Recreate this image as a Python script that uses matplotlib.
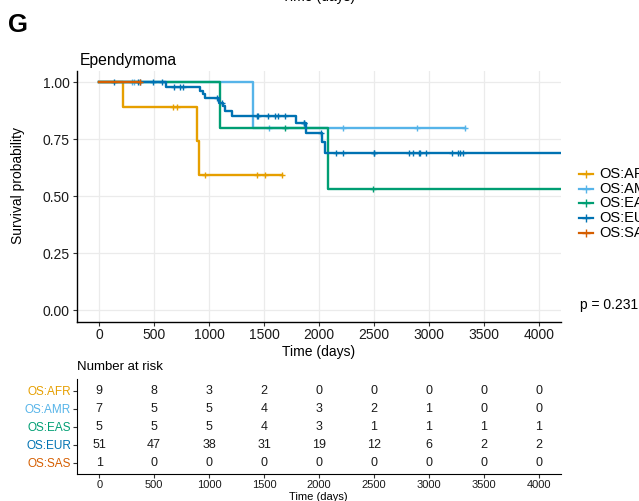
import numpy as np
import matplotlib
matplotlib.use('Agg')
import matplotlib.pyplot as plt
from matplotlib.lines import Line2D

plt.rcParams['font.family'] = ['Liberation Sans', 'DejaVu Sans']

groups = ['OS:AFR', 'OS:AMR', 'OS:EAS', 'OS:EUR', 'OS:SAS']
colors = ['#E69F00', '#56B4E9', '#009E73', '#0072B2', '#D55E00']

# KM steps: time of each drop and survival after it
afr_time = [0, 218, 889, 907]
afr_surv = [1.0, 0.889, 0.741, 0.593]
afr_last = 1665
afr_cens = [670, 707, 961, 1440, 1505, 1660]

amr_time = [0, 1403]
amr_surv = [1.0, 0.80]
amr_last = 3329
amr_cens = [300, 318, 1542, 2222, 2893, 3329]

eas_time = [0, 1102, 2086]
eas_surv = [1.0, 0.80, 0.533]
eas_last = 4400
eas_cens = [1687, 2494]

eur_time = [0, 609, 918, 943, 964, 1094, 1124, 1145, 1206, 1795, 1882, 2030, 2055]
eur_surv = [1.0, 0.978, 0.962, 0.946, 0.932, 0.910, 0.895, 0.871, 0.851, 0.822, 0.778, 0.735, 0.690]
eur_last = 4400
eur_cens = [130, 355, 372, 485, 570, 682, 736, 766, 1075, 1115, 1434, 1448, 1539, 1600,
            1630, 1691, 1860, 1868, 2015, 2152, 2215, 2500, 2505, 2818, 2858, 2912, 2918,
            2973, 3215, 3267, 3280, 3312]

sas_time = [0]
sas_surv = [1.0]
sas_last = 372
sas_cens = [372]

curves = [(afr_time, afr_surv, afr_last, afr_cens),
          (amr_time, amr_surv, amr_last, amr_cens),
          (eas_time, eas_surv, eas_last, eas_cens),
          (eur_time, eur_surv, eur_last, eur_cens),
          (sas_time, sas_surv, sas_last, sas_cens)]

risk_times = [0, 500, 1000, 1500, 2000, 2500, 3000, 3500, 4000]
risk_afr = [9, 8, 3, 2, 0, 0, 0, 0, 0]
risk_amr = [7, 5, 5, 4, 3, 2, 1, 0, 0]
risk_eas = [5, 5, 5, 4, 3, 1, 1, 1, 1]
risk_eur = [51, 47, 38, 31, 19, 12, 6, 2, 2]
risk_sas = [1, 0, 0, 0, 0, 0, 0, 0, 0]
risk = [risk_afr, risk_amr, risk_eas, risk_eur, risk_sas]

W, H = 639, 501
fig = plt.figure(figsize=(W / 100, H / 100), dpi=100)

def px(x0, y_top, x1, y_bot):
    return [x0 / W, 1 - y_bot / H, (x1 - x0) / W, (y_bot - y_top) / H]

ax = fig.add_axes(px(76.7, 70.6, 560.7, 321.5))
ax.set_xlim(-205, 4200)
ax.set_ylim(-0.05, 1.05)
ax.set_xticks(risk_times)
ax.set_yticks([0, 0.25, 0.5, 0.75, 1.0])
ax.set_yticklabels(['0.00', '0.25', '0.50', '0.75', '1.00'])
ax.grid(True, color='#EBEBEB', lw=0.9)
ax.set_axisbelow(True)
for s in ['top', 'right']:
    ax.spines[s].set_visible(False)
for s in ['left', 'bottom']:
    ax.spines[s].set_linewidth(1.0)
ax.tick_params(length=3, width=0.8, color='#333333', labelsize=10, labelcolor='#1a1a1a', pad=2)

for (t, s, last, cens), c in zip(curves, colors):
    ax.step(t + [last], s + [s[-1]], where='post', color=c, lw=1.7, clip_on=True)
    idx = np.searchsorted(t, cens, side='right') - 1
    ax.plot(cens, np.array(s)[idx], ls='none', marker='+', ms=5, mew=1.0, color=c)

ax.set_xlabel('Time (days)', fontsize=10)
ax.xaxis.set_label_coords(0.5, -0.095)
fig.text(18 / W, 1 - 185 / H, 'Survival probability', rotation=90, ha='center', va='center', fontsize=10)
fig.text(80 / W, 1 - 60 / H, 'Ependymoma', ha='left', va='center', fontsize=11.3)
fig.text(8 / W, 1 - 25 / H, 'G', ha='left', va='center', fontsize=18.5, fontweight='bold')
# x label of the panel above, partly cut by the top edge
fig.text(319 / W, 1 + 2.5 / H, 'Time (days)', ha='center', va='center', fontsize=10)

# legend on the right, partly cut by the figure edge
for i, (g, c) in enumerate(zip(groups, colors)):
    y = 1 - (174 + 14.7 * i) / H
    fig.add_artist(Line2D([579 / W, 593 / W], [y, y], color=c, lw=1.6))
    fig.add_artist(Line2D([586 / W], [y], marker='+', ms=6, mew=1.0, color=c))
    fig.text(599 / W, y, g, ha='left', va='center', fontsize=10.5)
fig.text(580 / W, 1 - 305 / H, 'p = 0.231', ha='left', va='center', fontsize=10)

# risk table
ax2 = fig.add_axes(px(76.7, 379, 560.7, 473.5))
ax2.set_xlim(-205, 4200)
ax2.set_ylim(0.4, 5.65)
ax2.set_xticks(risk_times)
ax2.set_yticks([5, 4, 3, 2, 1])
ax2.set_yticklabels(groups)
for lab, c in zip(ax2.get_yticklabels(), colors):
    lab.set_color(c)
for s in ['top', 'right']:
    ax2.spines[s].set_visible(False)
ax2.tick_params(axis='y', length=3, width=0.8, color='#333333', labelsize=8.5, pad=1)
ax2.tick_params(axis='x', length=3, width=0.8, color='#333333', labelsize=8, labelcolor='#1a1a1a', pad=2)
for row, counts in enumerate(risk):
    for t, n in zip(risk_times, counts):
        ax2.text(t, 5 - row, str(n), ha='center', va='center', fontsize=9, color='#1a1a1a')
ax2.set_xlabel('Time (days)', fontsize=8, labelpad=1)
fig.text(77 / W, 1 - 366.5 / H, 'Number at risk', ha='left', va='center', fontsize=9.5)

fig.savefig('out.png', dpi=100)
